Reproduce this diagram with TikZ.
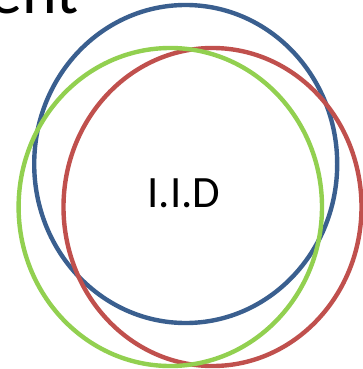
\documentclass[tikz,border=0pt]{standalone}
\usepackage{fontspec}
\setmainfont{Carlito}
\definecolor{ringblue}{HTML}{3A5F8F}
\definecolor{ringred}{HTML}{C0504D}
\definecolor{ringgreen}{HTML}{92D050}
\begin{document}
\begin{tikzpicture}[x=1pt,y=-1pt,
  ring/.style={line width=4.4pt}]
\useasboundingbox (0,0) rectangle (362,369);
\node[anchor=base east,inner sep=0pt,font=\fontsize{66}{72}\selectfont] (title) at (79,13.5) {ent};
\draw[ring,ringblue] (185.7,164) ellipse [x radius=151.5, y radius=159];
\draw[ring,ringred] (212.5,207) ellipse [x radius=149, y radius=159];
\draw[ring,ringgreen] (170.3,207) ellipse [x radius=151.7, y radius=159];
\node[inner sep=0pt,font=\fontsize{44.8}{50}\selectfont] (iid) at (184,193.5) {I.I.D};
\end{tikzpicture}
\end{document}
